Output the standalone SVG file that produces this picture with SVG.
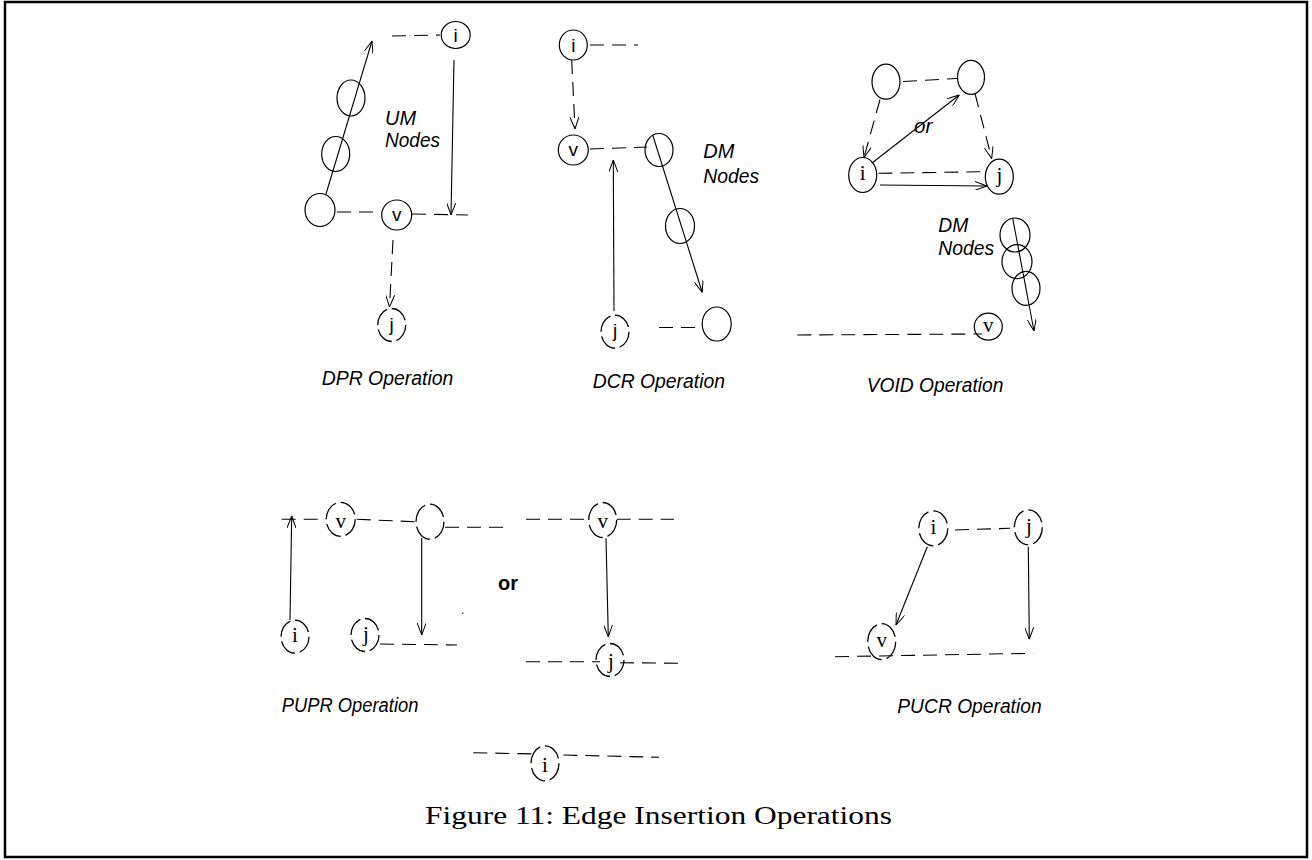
<svg xmlns="http://www.w3.org/2000/svg" width="1312" height="860" viewBox="0 0 1312 860">
<defs>
<marker id="ah" viewBox="0 0 12 9" refX="12" refY="4.5" markerWidth="12" markerHeight="9" orient="auto" markerUnits="userSpaceOnUse"><path d="M0,0 L12,4.5 L0,9" fill="none" stroke="#000" stroke-width="1"/></marker>
</defs>
<style>
.n{fill:none;stroke:#000;stroke-width:1.2}
.nd{fill:none;stroke:#000;stroke-width:1.3;stroke-dasharray:20 5}
.e{fill:none;stroke:#000;stroke-width:1.1}
.d{fill:none;stroke:#000;stroke-width:1.1;stroke-dasharray:14 8}
.a{marker-end:url(#ah)}
.ls{font-family:"Liberation Sans",Arial,sans-serif;font-size:19px;text-anchor:middle}
.lr{font-family:"Liberation Serif","Times New Roman",serif;font-size:21px;text-anchor:middle}
.t{font-family:"Liberation Sans",Arial,sans-serif;font-style:italic;font-size:20.5px}
.b{font-family:"Liberation Sans",Arial,sans-serif;font-weight:bold;font-size:20px}
.cap{font-family:"Liberation Serif","Times New Roman",serif;font-size:26px}
</style>
<rect x="5" y="2" width="1302" height="855" fill="#fff" stroke="#000" stroke-width="2.5"/>

<g id="connectors">
  <line class="d" x1="392" y1="36" x2="440" y2="35"/>
  <line class="e a" x1="326" y1="194" x2="372" y2="41"/>
  <line class="d" x1="337" y1="212" x2="381" y2="212"/>
  <line class="d" x1="412" y1="214" x2="468" y2="215"/>
  <line class="e a" x1="454" y1="60" x2="451" y2="215"/>
  <line class="d a" x1="393" y1="240" x2="389.5" y2="307"/>
  <line class="d" x1="590" y1="45" x2="638" y2="45"/>
  <line class="d a" x1="571.7" y1="60" x2="575" y2="129"/>
  <line class="d" x1="590" y1="149" x2="647" y2="147"/>
  <line class="e a" x1="614" y1="311" x2="613.3" y2="160"/>
  <line class="e a" x1="652.7" y1="135" x2="702.3" y2="292.5"/>
  <line class="d" x1="659" y1="327.5" x2="703" y2="327.5"/>
  <line class="d" x1="903" y1="81.5" x2="957" y2="78.5"/>
  <line class="d a" x1="880" y1="99.5" x2="864" y2="157.5"/>
  <line class="e a" x1="871.7" y1="163.3" x2="959.3" y2="95"/>
  <line class="d a" x1="975" y1="93.5" x2="991.7" y2="158.5"/>
  <line class="d" x1="878.3" y1="173.3" x2="985" y2="171.7"/>
  <line class="e a" x1="880" y1="185" x2="986.7" y2="186"/>
  <line class="e a" x1="1012.7" y1="218.3" x2="1034" y2="331"/>
  <line class="d" x1="797.3" y1="335" x2="982" y2="334"/>
  <line class="d" x1="281.7" y1="519.3" x2="325" y2="519.3"/>
  <line class="d" x1="356.7" y1="519.3" x2="415" y2="521.7"/>
  <line class="d" x1="445" y1="527.3" x2="504" y2="527.3"/>
  <line class="e a" x1="290" y1="620" x2="291.7" y2="516"/>
  <line class="e a" x1="421.7" y1="538.3" x2="421.7" y2="635"/>
  <line class="d" x1="380" y1="644" x2="457" y2="645"/>
  <line class="d" x1="526" y1="519.3" x2="590" y2="519.3"/>
  <line class="d" x1="616.7" y1="519.3" x2="674" y2="519.3"/>
  <line class="e a" x1="606" y1="538.3" x2="608.3" y2="636.7"/>
  <line class="d" x1="526" y1="661.7" x2="600" y2="661.7"/>
  <line class="d" x1="620" y1="662.7" x2="679" y2="663.3"/>
  <line class="d" x1="473.3" y1="752.7" x2="535" y2="754"/>
  <line class="d" x1="563.3" y1="755" x2="659" y2="757.3"/>
  <line class="d" x1="955" y1="530" x2="1010" y2="528.3"/>
  <line class="e a" x1="927.3" y1="546.7" x2="896" y2="625"/>
  <line class="e a" x1="1028.3" y1="546.7" x2="1029.3" y2="639.3"/>
  <line class="d" x1="835" y1="656.7" x2="1033.3" y2="653.3"/>
</g>

<g id="dpr-i"><ellipse class="n" cx="455.7" cy="35" rx="14.5" ry="13.5"/><text class="ls" x="455.7" y="42">i</text></g>
<g id="dpr-um1"><ellipse class="n" cx="351" cy="98" rx="14" ry="18"/></g>
<g id="dpr-um2"><ellipse class="n" cx="335.7" cy="154" rx="14" ry="17.5"/></g>
<g id="dpr-src"><ellipse class="n" cx="320" cy="210" rx="15" ry="16.5"/></g>
<g id="dpr-v"><ellipse class="n" cx="396.7" cy="215" rx="15" ry="15"/><text class="ls" x="396.7" y="221">v</text></g>
<g id="dpr-j"><ellipse class="nd" pathLength="100" cx="391.7" cy="325" rx="14" ry="16.5"/><text class="ls" x="391.7" y="331">j</text></g>
<g id="dpr-labels">
  <text class="t" x="385" y="125" textLength="31" lengthAdjust="spacingAndGlyphs">UM</text>
  <text class="t" x="385" y="147" textLength="55" lengthAdjust="spacingAndGlyphs">Nodes</text>
  <text class="t" x="321.7" y="385" textLength="131.7" lengthAdjust="spacingAndGlyphs">DPR Operation</text>
</g>

<g id="dcr-i"><ellipse class="n" cx="573.3" cy="45" rx="14" ry="15"/><text class="ls" x="573.3" y="51.5">i</text></g>
<g id="dcr-v"><ellipse class="n" cx="573.3" cy="150" rx="15" ry="15"/><text class="ls" x="573.3" y="156">v</text></g>
<g id="dcr-dm1"><ellipse class="n" cx="659" cy="150" rx="14" ry="16.5"/></g>
<g id="dcr-dm2"><ellipse class="n" cx="680" cy="226" rx="14.5" ry="17.5"/></g>
<g id="dcr-j"><ellipse class="nd" pathLength="100" cx="615" cy="331.7" rx="14" ry="16.5"/><text class="ls" x="615" y="337">j</text></g>
<g id="dcr-end"><ellipse class="n" cx="716.7" cy="324" rx="14.5" ry="17"/></g>
<g id="dcr-labels">
  <text class="t" x="703.3" y="158" textLength="31" lengthAdjust="spacingAndGlyphs">DM</text>
  <text class="t" x="703.3" y="183" textLength="56" lengthAdjust="spacingAndGlyphs">Nodes</text>
  <text class="t" x="592.7" y="388" textLength="132.3" lengthAdjust="spacingAndGlyphs">DCR Operation</text>
</g>

<g id="void-a"><ellipse class="n" cx="886" cy="81.7" rx="14" ry="17.5"/></g>
<g id="void-b"><ellipse class="n" cx="971" cy="77.3" rx="13.5" ry="17"/></g>
<g id="void-i"><ellipse class="n" cx="862.7" cy="175" rx="14" ry="17.5"/><text class="lr" x="862.7" y="180">i</text></g>
<g id="void-j"><ellipse class="n" cx="999.3" cy="176.7" rx="14" ry="17.5"/><text class="lr" x="999.3" y="182">j</text></g>
<g id="void-dm1"><ellipse class="n" cx="1015" cy="235" rx="15" ry="17"/></g>
<g id="void-dm2"><ellipse class="n" cx="1017" cy="261.7" rx="15" ry="17"/></g>
<g id="void-dm3"><ellipse class="n" cx="1026" cy="288.3" rx="14" ry="17"/></g>
<g id="void-v"><ellipse class="n" cx="988.3" cy="326.7" rx="14" ry="13.5"/><text class="lr" x="988.3" y="332">v</text></g>
<g id="void-labels">
  <text class="t" x="914" y="133" font-size="22">or</text>
  <text class="t" x="938.3" y="231.5" textLength="30" lengthAdjust="spacingAndGlyphs">DM</text>
  <text class="t" x="938.3" y="255" textLength="56" lengthAdjust="spacingAndGlyphs">Nodes</text>
  <text class="t" x="866.7" y="391.5" textLength="136.7" lengthAdjust="spacingAndGlyphs">VOID Operation</text>
</g>

<g id="pupr-v"><ellipse class="nd" pathLength="100" cx="340.7" cy="519.3" rx="14.5" ry="17"/><text class="lr" x="340.7" y="528">v</text></g>
<g id="pupr-u"><ellipse class="nd" pathLength="100" cx="430" cy="521.7" rx="14" ry="17.5"/></g>
<g id="pupr-i"><ellipse class="nd" pathLength="100" cx="295" cy="636.7" rx="14" ry="16.5"/><text class="lr" x="295" y="642">i</text></g>
<g id="pupr-j"><ellipse class="nd" pathLength="100" cx="365" cy="635" rx="14" ry="16.5"/><text class="lr" x="366" y="641">j</text></g>
<g id="pupr-v2"><ellipse class="nd" pathLength="100" cx="602.7" cy="520" rx="14" ry="17.5"/><text class="lr" x="602.7" y="528">v</text></g>
<g id="pupr-j2"><ellipse class="nd" pathLength="100" cx="610" cy="660" rx="14" ry="16.5"/><text class="lr" x="611" y="668">j</text></g>
<g id="pupr-i2"><ellipse class="nd" pathLength="100" cx="545" cy="763.3" rx="14" ry="17.5"/><text class="lr" x="545" y="772">i</text></g>
<g id="pupr-labels">
  <circle cx="462.7" cy="613.3" r="0.7" fill="#000"/>
  <text class="b" x="498" y="590">or</text>
  <text class="t" x="281.7" y="711.5" textLength="136.7" lengthAdjust="spacingAndGlyphs">PUPR Operation</text>
</g>

<g id="pucr-i"><ellipse class="nd" pathLength="100" cx="933.3" cy="528.3" rx="14.5" ry="17.5"/><text class="lr" x="933.3" y="534">i</text></g>
<g id="pucr-j"><ellipse class="nd" pathLength="100" cx="1028.3" cy="527.3" rx="14" ry="17.5"/><text class="lr" x="1029" y="533">j</text></g>
<g id="pucr-v"><ellipse class="nd" pathLength="100" cx="881.7" cy="641.7" rx="14" ry="18"/><text class="lr" x="881.7" y="647">v</text></g>
<g id="pucr-labels">
  <text class="t" x="897.3" y="713.3" textLength="144.3" lengthAdjust="spacingAndGlyphs">PUCR Operation</text>
</g>

<text class="cap" x="425" y="824" textLength="467" lengthAdjust="spacingAndGlyphs">Figure 11: Edge Insertion Operations</text>
</svg>
